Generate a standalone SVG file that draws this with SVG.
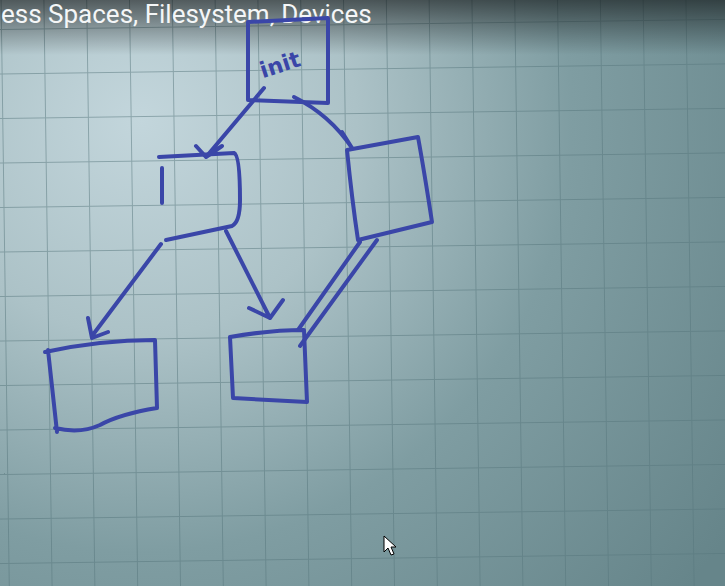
<svg xmlns="http://www.w3.org/2000/svg" width="725" height="586" viewBox="0 0 725 586">
<defs>
<radialGradient id="bg" cx="140" cy="120" r="720" gradientUnits="userSpaceOnUse">
<stop offset="0" stop-color="#c3d6dc"/>
<stop offset="0.3" stop-color="#acc2c7"/>
<stop offset="0.6" stop-color="#7f9da2"/>
<stop offset="1" stop-color="#66858a"/>
</radialGradient>
<linearGradient id="top" x1="0" y1="0" x2="0" y2="1">
<stop offset="0" stop-color="#000" stop-opacity="0.55"/>
<stop offset="1" stop-color="#000" stop-opacity="0"/>
</linearGradient>
<pattern id="grid" width="42.8" height="44.5" patternUnits="userSpaceOnUse" patternTransform="translate(1,29) rotate(-0.8)">
<path d="M0 0H42.8M0 0V44.5" fill="none" stroke="#55757b" stroke-opacity="0.5" stroke-width="2"/>
</pattern>
<style>
.ink{fill:none;stroke:#3a46a8;stroke-width:4;stroke-linecap:round;stroke-linejoin:round}
.title{font-family:Roboto,"Liberation Sans",sans-serif;font-size:26px;fill:#f4f6f7}
.hand{font-family:"DejaVu Sans",sans-serif;font-size:22px;font-weight:bold;fill:#3a46a8}
</style>
</defs>
<rect width="725" height="586" fill="url(#bg)"/>
<rect width="725" height="586" fill="url(#grid)"/>
<rect width="725" height="55" fill="url(#top)"/>
<text class="title" x="1" y="23">ess Spaces, Filesystem, Devices</text>

<g id="connectors">
<path class="ink" d="M264 88 L206 157 M196 146 L206 157 L222 146"/>
<path class="ink" d="M294 97 Q330 115 352 148 M342 132 L352 148"/>
<path class="ink" d="M161 244 L92 336 M88 318 L92 338 L108 332"/>
<path class="ink" d="M226 231 L270 318 M249 308 L270 318 L283 300"/>
<path class="ink" d="M360 242 L298 330 M377 240 L300 346"/>
</g>

<g id="init">
<path class="ink" d="M248 22 L328 18 L328 103 L248 100 Z"/>
<text class="hand" x="258" y="72" transform="rotate(-18 280 60)">init</text>
</g>
<g id="proc-left">
<path class="ink" d="M159 157 L234 153 Q240 155 240 200 Q240 222 232 226 L166 240 M162 168 L162 203"/>
</g>
<g id="proc-right">
<path class="ink" d="M347 150 L418 137 Q424 170 432 222 L358 240 Q352 200 347 150 Z"/>
</g>
<g id="child-left">
<path class="ink" d="M45 352 Q100 340 155 340 L157 408 Q120 414 100 425 Q80 434 55 428 M48 350 L57 432"/>
</g>
<g id="child-mid">
<path class="ink" d="M230 337 Q270 330 304 330 L307 402 L233 398 Z"/>
</g>

<path d="M384 536 L384 552 L388 548 L391 555 L394 554 L391 547 L396 547 Z" fill="#fff" stroke="#000" stroke-width="1"/>
</svg>
